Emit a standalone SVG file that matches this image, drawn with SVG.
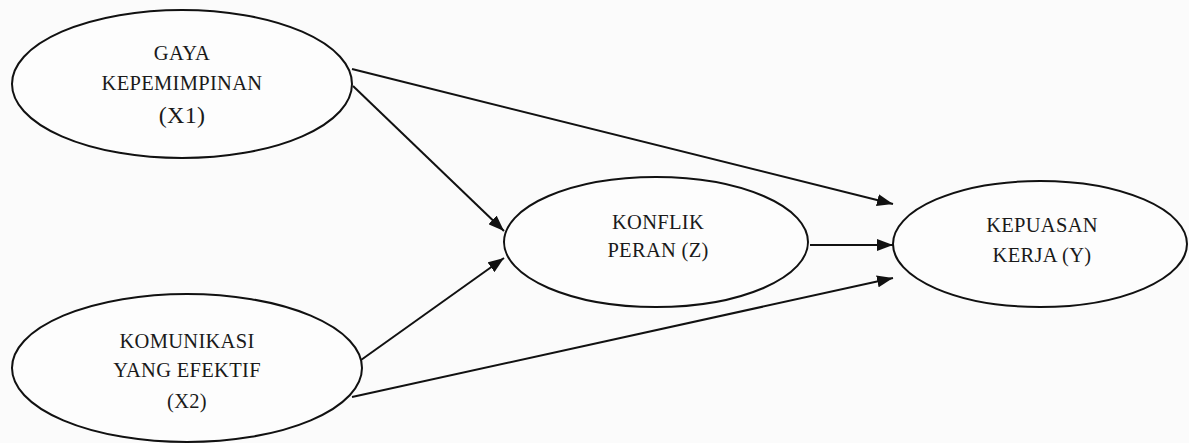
<svg xmlns="http://www.w3.org/2000/svg" width="1189" height="443" viewBox="0 0 1189 443">
  <defs>
    <marker id="arrow" viewBox="0 0 16 12" refX="16" refY="6" markerWidth="16" markerHeight="12" markerUnits="userSpaceOnUse" orient="auto">
      <path d="M0,0 L16,6 L0,12 Z" fill="#111"/>
    </marker>
    <style>
      .node ellipse { fill: #fdfdfd; stroke: #111; stroke-width: 2; }
      .node text { font-family: "Liberation Serif", "Times New Roman", serif; font-size: 20.5px; fill: #1a1a1a; text-anchor: middle; letter-spacing: 0.3px; }
      .node text.big { font-size: 24px; }
      .edges line { stroke: #111; stroke-width: 2; marker-end: url(#arrow); }
    </style>
  </defs>
  <rect width="1189" height="443" fill="#fbfbfb"/>

  <g class="edges" id="connectors">
    <line x1="352" y1="69" x2="893" y2="204"/>
    <line x1="353" y1="86" x2="504" y2="231"/>
    <line x1="361" y1="360" x2="504" y2="258"/>
    <line x1="352" y1="397" x2="893" y2="278"/>
    <line x1="810" y1="245" x2="893" y2="245"/>
  </g>

  <g class="node" id="x1">
    <ellipse cx="182" cy="84" rx="170" ry="74"/>
    <text x="182" y="60">GAYA</text>
    <text x="182" y="90">KEPEMIMPINAN</text>
    <text class="big" x="182" y="123">(X1)</text>
  </g>

  <g class="node" id="x2">
    <ellipse cx="187" cy="368" rx="175" ry="74"/>
    <text x="187" y="348">KOMUNIKASI</text>
    <text x="187" y="377">YANG EFEKTIF</text>
    <text x="187" y="408">(X2)</text>
  </g>

  <g class="node" id="z">
    <ellipse cx="656" cy="242" rx="152" ry="65"/>
    <text x="658" y="229">KONFLIK</text>
    <text x="658" y="257">PERAN (Z)</text>
  </g>

  <g class="node" id="y">
    <ellipse cx="1040" cy="244" rx="147" ry="63"/>
    <text x="1042" y="232">KEPUASAN</text>
    <text x="1042" y="262">KERJA (Y)</text>
  </g>
</svg>
